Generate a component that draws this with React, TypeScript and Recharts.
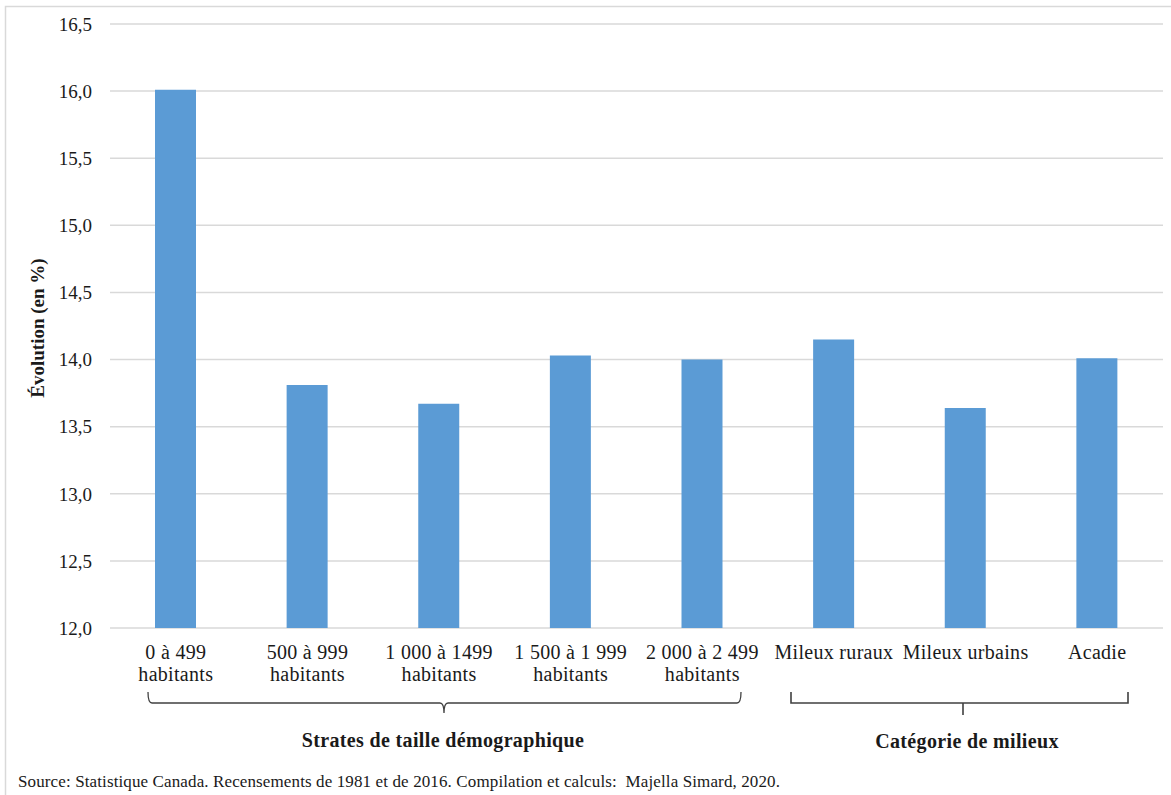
import React from "react"
import { Bar, BarChart, CartesianGrid, XAxis, YAxis } from "recharts"

const categories = [
  "0 à 499\nhabitants",
  "500 à 999\nhabitants",
  "1 000 à 1499\nhabitants",
  "1 500 à 1 999\nhabitants",
  "2 000 à 2 499\nhabitants",
  "Mileux ruraux",
  "Mileux urbains",
  "Acadie",
]
const values = [16.01, 13.81, 13.67, 14.03, 14.0, 14.15, 13.64, 14.01]
const yTicks = [12, 12.5, 13, 13.5, 14, 14.5, 15, 15.5, 16, 16.5]

const groupLabels = ["Strates de taille démographique", "Catégorie de milieux"]
const yTitle = "Évolution (en %)"
const sourceText =
  "Source: Statistique Canada. Recensements de 1981 et de 2016. Compilation et calculs:  Majella Simard, 2020."

const data = categories.map((label, i) => ({ label, value: values[i] }))

const FONT = "Liberation Serif, Tinos, Times New Roman, DejaVu Serif, serif"

function CategoryTick({ x, y, payload }: any) {
  const lines = String(payload.value).split("\n")
  return (
    <text
      x={x}
      y={y}
      textAnchor="middle"
      style={{ fontFamily: FONT, fontSize: 20, letterSpacing: 0.3 }}
      fill="#1a1a1a"
    >
      {lines.map((line, i) => (
        <tspan key={i} x={x} dy={i === 0 ? 31 : 22}>
          {line}
        </tspan>
      ))}
    </text>
  )
}

export default function App() {
  return (
    <div
      style={{
        position: "absolute",
        left: 0,
        top: 0,
        width: 1171,
        height: 795,
        background: "#fff",
        fontFamily: FONT,
      }}
    >
      <BarChart
        width={1171}
        height={795}
        data={data}
        margin={{ top: 24, right: 8, left: 0, bottom: 107 }}
        style={{ fontFamily: FONT }}
      >
        <CartesianGrid vertical={false} stroke="#d9d9d9" strokeWidth={1.5} />
        <YAxis
          width={110}
          domain={[12, 16.5]}
          ticks={yTicks}
          axisLine={false}
          tickLine={false}
          tickSize={0}
          tickMargin={18}
          tickFormatter={(v: number) => v.toFixed(1).replace(".", ",")}
          tick={{ style: { fontFamily: FONT, fontSize: 19 }, fill: "#1a1a1a" }}
        />
        <XAxis
          dataKey="label"
          height={60}
          interval={0}
          axisLine={false}
          tickLine={false}
          tickSize={0}
          tickMargin={0}
          tick={<CategoryTick />}
        />
        <Bar dataKey="value" fill="#5b9bd5" barSize={41} isAnimationActive={false} />
      </BarChart>

      {/* annotations: braces, group titles, axis title, source, frame */}
      <svg
        width={1171}
        height={795}
        style={{ position: "absolute", left: 0, top: 0, pointerEvents: "none", fontFamily: FONT }}
      >
        <rect x={5.5} y={6.5} width={1300} height={900} fill="none" stroke="#d9d9d9" strokeWidth={1.5} />
        <path
          d="M148,692 Q148,703 152,703 L440,703 Q444,703 444,713 Q444,703 448,703 L737,703 Q741,703 741,692"
          fill="none"
          stroke="#404040"
          strokeWidth={1.3}
        />
        <path d="M791,692 L791,703 L1128,703 L1128,692 M963,703 L963,715" fill="none" stroke="#404040" strokeWidth={1.6} />
        <text
          x={443}
          y={747}
          textAnchor="middle"
          style={{ fontSize: 20, fontWeight: "bold", letterSpacing: 0.35 }}
          fill="#1a1a1a"
        >
          {groupLabels[0]}
        </text>
        <text
          x={967}
          y={748}
          textAnchor="middle"
          style={{ fontSize: 20, fontWeight: "bold", letterSpacing: 0.35 }}
          fill="#1a1a1a"
        >
          {groupLabels[1]}
        </text>
        <text
          x={0}
          y={0}
          transform="translate(44,328) rotate(-90)"
          textAnchor="middle"
          style={{ fontSize: 19, fontWeight: "bold" }}
          fill="#1a1a1a"
        >
          {yTitle}
        </text>
        <text x={18} y={787} style={{ fontSize: 17, letterSpacing: 0.12, whiteSpace: "pre" }} fill="#1a1a1a">
          {sourceText}
        </text>
      </svg>
    </div>
  )
}
